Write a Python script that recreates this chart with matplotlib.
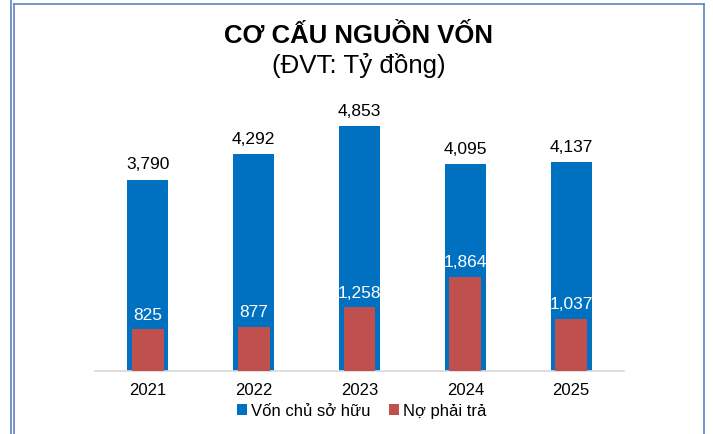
import matplotlib
matplotlib.use("Agg")
import matplotlib.pyplot as plt
from matplotlib.lines import Line2D

years = ["2021", "2022", "2023", "2024", "2025"]
von_chu_so_huu = [3790, 4292, 4853, 4095, 4137]
no_phai_tra = [825, 877, 1258, 1864, 1037]
series_names = ["Vốn chủ sở hữu", "Nợ phải trả"]
title = "CƠ CẤU NGUỒN VỐN"
subtitle = "(ĐVT: Tỷ đồng)"

plt.rcParams['font.family'] = ['Liberation Sans', 'DejaVu Sans']

W, H = 713, 435
fig = plt.figure(figsize=(W/100, H/100), dpi=100)
ax = fig.add_axes([95/W, (H-372)/H, (624-95)/W, (372-100)/H])

x = list(range(len(years)))
blue = "#0070C0"
red = "#C0504D"
b1 = ax.bar(x, von_chu_so_huu, width=41/106, color=blue, label=series_names[0], zorder=2)
b2 = ax.bar(x, no_phai_tra, width=32/106, color=red, label=series_names[1], zorder=3)

for xi, v in zip(x, von_chu_so_huu):
    ax.annotate(f"{v:,}", (xi, v), xytext=(0, 6), textcoords="offset points",
                ha="center", va="bottom", fontsize=12.5, color="black")
for xi, v in zip(x, no_phai_tra):
    ax.annotate(f"{v:,}", (xi, v), xytext=(0, 5.5), textcoords="offset points",
                ha="center", va="bottom", fontsize=12.5, color="white", zorder=4)

ax.set_xlim(-0.5, len(years) - 0.5)
ax.set_ylim(0, 272/0.0505)
ax.set_xticks(x)
ax.set_xticklabels(years, fontsize=12)
ax.tick_params(axis='x', length=0, pad=8)
ax.set_yticks([])
for s in ["top", "right", "left"]:
    ax.spines[s].set_visible(False)
ax.spines["bottom"].set_color("#D9D9D9")
ax.spines["bottom"].set_linewidth(1.2)

fig.text(359/W, 1 - 36/H, title, ha="center", va="center", fontsize=18.5, fontweight="bold")
fig.text(359/W, 1 - 65/H, subtitle, ha="center", va="center", fontsize=18.6)

fig.legend(handles=[b1, b2], labels=series_names, loc="center", bbox_to_anchor=(362/W, 1 - 412/H),
           ncol=2, frameon=False, fontsize=12, handlelength=0.6, handleheight=0.6,
           handletextpad=0.25, columnspacing=1.1, borderpad=0)

bc = "#5B82C4"
fig.add_artist(Line2D([10.5/W, 10.5/W], [0, 1], color=bc, lw=1.2, transform=fig.transFigure))
fig.add_artist(Line2D([13.5/W, 13.5/W], [0, 1 - 5/H], color=bc, lw=1.2, transform=fig.transFigure))
fig.add_artist(Line2D([13.5/W, 704/W], [1 - 5/H, 1 - 5/H], color=bc, lw=1.2, transform=fig.transFigure))
fig.add_artist(Line2D([704/W, 704/W], [0, 1 - 5/H], color=bc, lw=1.2, transform=fig.transFigure))

fig.savefig("out.png", dpi=100)
